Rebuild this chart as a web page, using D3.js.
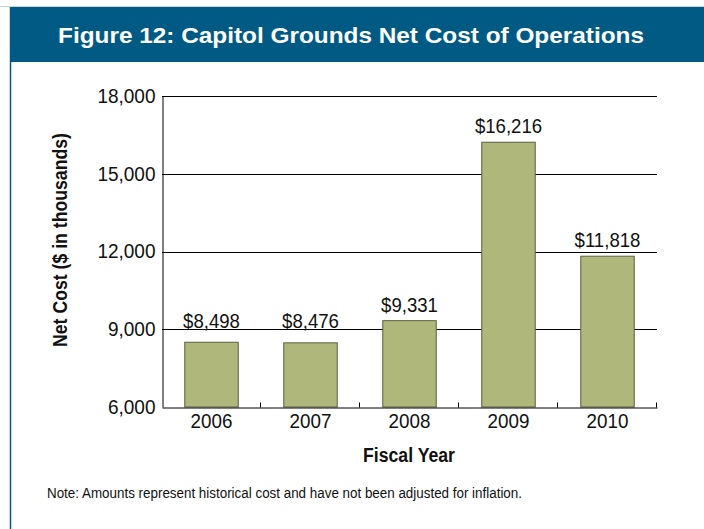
<!DOCTYPE html>
<html>
<head>
<meta charset="utf-8">
<script src="https://cdn.jsdelivr.net/npm/d3@7"></script>
<style>
  html, body { margin: 0; padding: 0; background: #fff; }
  svg { display: block; }
  text { font-family: "Liberation Sans", Arial, Helvetica, sans-serif; }
</style>
</head>
<body>
<script>
// Capitol Grounds net cost of operations, $ thousands, by fiscal year
const years = ["2006", "2007", "2008", "2009", "2010"];
const netCost = [8498, 8476, 9331, 16216, 11818];
const yTicks = [6000, 9000, 12000, 15000, 18000];

const W = 704, H = 529;
const svg = d3.select("body").append("svg").attr("width", W).attr("height", H);

// narrow the glyphs a little for a condensed look
function condense(sel, k) {
  sel.each(function () {
    const L = this.getComputedTextLength();
    d3.select(this).attr("textLength", L * k).attr("lengthAdjust", "spacingAndGlyphs");
  });
}

// frame: thin top rule, blue header band, left border
svg.append("line").attr("x1", 0).attr("x2", W).attr("y1", 6.5).attr("y2", 6.5)
  .attr("stroke", "#c8d4dc").attr("stroke-width", 1);
svg.append("rect").attr("x", 10).attr("y", 7).attr("width", W - 10).attr("height", 55)
  .attr("fill", "#005a84");
svg.append("line").attr("x1", 10.5).attr("x2", 10.5).attr("y1", 7).attr("y2", H)
  .attr("stroke", "#005a84").attr("stroke-width", 1.5);

svg.append("text").attr("x", 351).attr("y", 43).attr("text-anchor", "middle")
  .attr("fill", "#fff").attr("font-weight", "bold").attr("font-size", 22)
  .attr("textLength", 586).attr("lengthAdjust", "spacingAndGlyphs")
  .text("Figure 12: Capitol Grounds Net Cost of Operations");

const m = { left: 162, right: 657, top: 96, bottom: 407 };

const x = d3.scaleBand().domain(years).range([m.left, m.right]).paddingInner(0.46).paddingOuter(0.23);
const y = d3.scaleLinear().domain([6000, 18000]).range([m.bottom, m.top]);

// horizontal gridlines
const gridY = yTicks.slice(1).map(d => Math.round(y(d)) + 0.5);
svg.append("g").selectAll("line").data(gridY).join("line")
  .attr("x1", m.left).attr("x2", m.right)
  .attr("y1", d => d).attr("y2", d => d)
  .attr("stroke", "#000").attr("stroke-width", 1);

// bars
svg.append("g").selectAll("rect").data(netCost).join("rect")
  .attr("x", (d, i) => x(years[i]))
  .attr("y", d => y(d))
  .attr("width", x.bandwidth())
  .attr("height", d => y(6000) - y(d))
  .attr("fill", "#b0b77b").attr("stroke", "#5b5e3e").attr("stroke-width", 1);

// value labels sit just above each bar, lifted clear of a gridline if they would cross it
function labelBaseline(v) {
  let b = y(v) - 9;
  gridY.forEach(g => { if (b > g - 1 && b - 15 < g) b = g - 2; });
  return b;
}
const labels = svg.append("g").selectAll("text").data(netCost).join("text")
  .attr("x", (d, i) => x(years[i]) + x.bandwidth() / 2)
  .attr("y", d => labelBaseline(d))
  .attr("text-anchor", "middle").attr("font-size", 20).attr("fill", "#111")
  .text(d => "$" + d3.format(",")(d));
condense(labels, 0.93);

// y axis
const yAxis = svg.append("g").attr("transform", `translate(${m.left + 0.5},0)`)
  .call(d3.axisLeft(y).tickValues(yTicks).tickFormat(d3.format(",")).tickSize(0).tickPadding(7));
yAxis.attr("font-family", null);
yAxis.select(".domain").attr("stroke", "#000");
yAxis.selectAll("text").attr("font-size", 20).attr("fill", "#111");
condense(yAxis.selectAll("text"), 0.95);

// x axis with category-boundary ticks pointing up
const xAxis = svg.append("g").attr("transform", `translate(0,${m.bottom + 0.5})`)
  .call(d3.axisBottom(x).tickSize(0).tickPadding(6));
xAxis.attr("font-family", null);
xAxis.select(".domain").attr("stroke", "#000");
xAxis.selectAll("text").attr("font-size", 20).attr("fill", "#111");
condense(xAxis.selectAll("text"), 0.94);
const slot = (m.right - m.left) / years.length;
xAxis.append("g").selectAll("line").data(years).join("line")
  .attr("x1", (d, i) => Math.round(m.left + (i + 1) * slot) - 0.5)
  .attr("x2", (d, i) => Math.round(m.left + (i + 1) * slot) - 0.5)
  .attr("y1", 0).attr("y2", -5).attr("stroke", "#000");

// axis titles
svg.append("text").attr("x", 409).attr("y", 462).attr("text-anchor", "middle")
  .attr("font-weight", "bold").attr("font-size", 20).attr("fill", "#111")
  .attr("textLength", 92).attr("lengthAdjust", "spacingAndGlyphs").text("Fiscal Year");
svg.append("text").attr("transform", "translate(67,240) rotate(-90)").attr("text-anchor", "middle")
  .attr("font-weight", "bold").attr("font-size", 20).attr("fill", "#111")
  .attr("textLength", 214).attr("lengthAdjust", "spacingAndGlyphs").text("Net Cost ($ in thousands)");

svg.append("text").attr("x", 47).attr("y", 498).attr("font-size", 14).attr("fill", "#111")
  .attr("textLength", 475).attr("lengthAdjust", "spacingAndGlyphs")
  .text("Note: Amounts represent historical cost and have not been adjusted for inflation.");
</script>
</body>
</html>
